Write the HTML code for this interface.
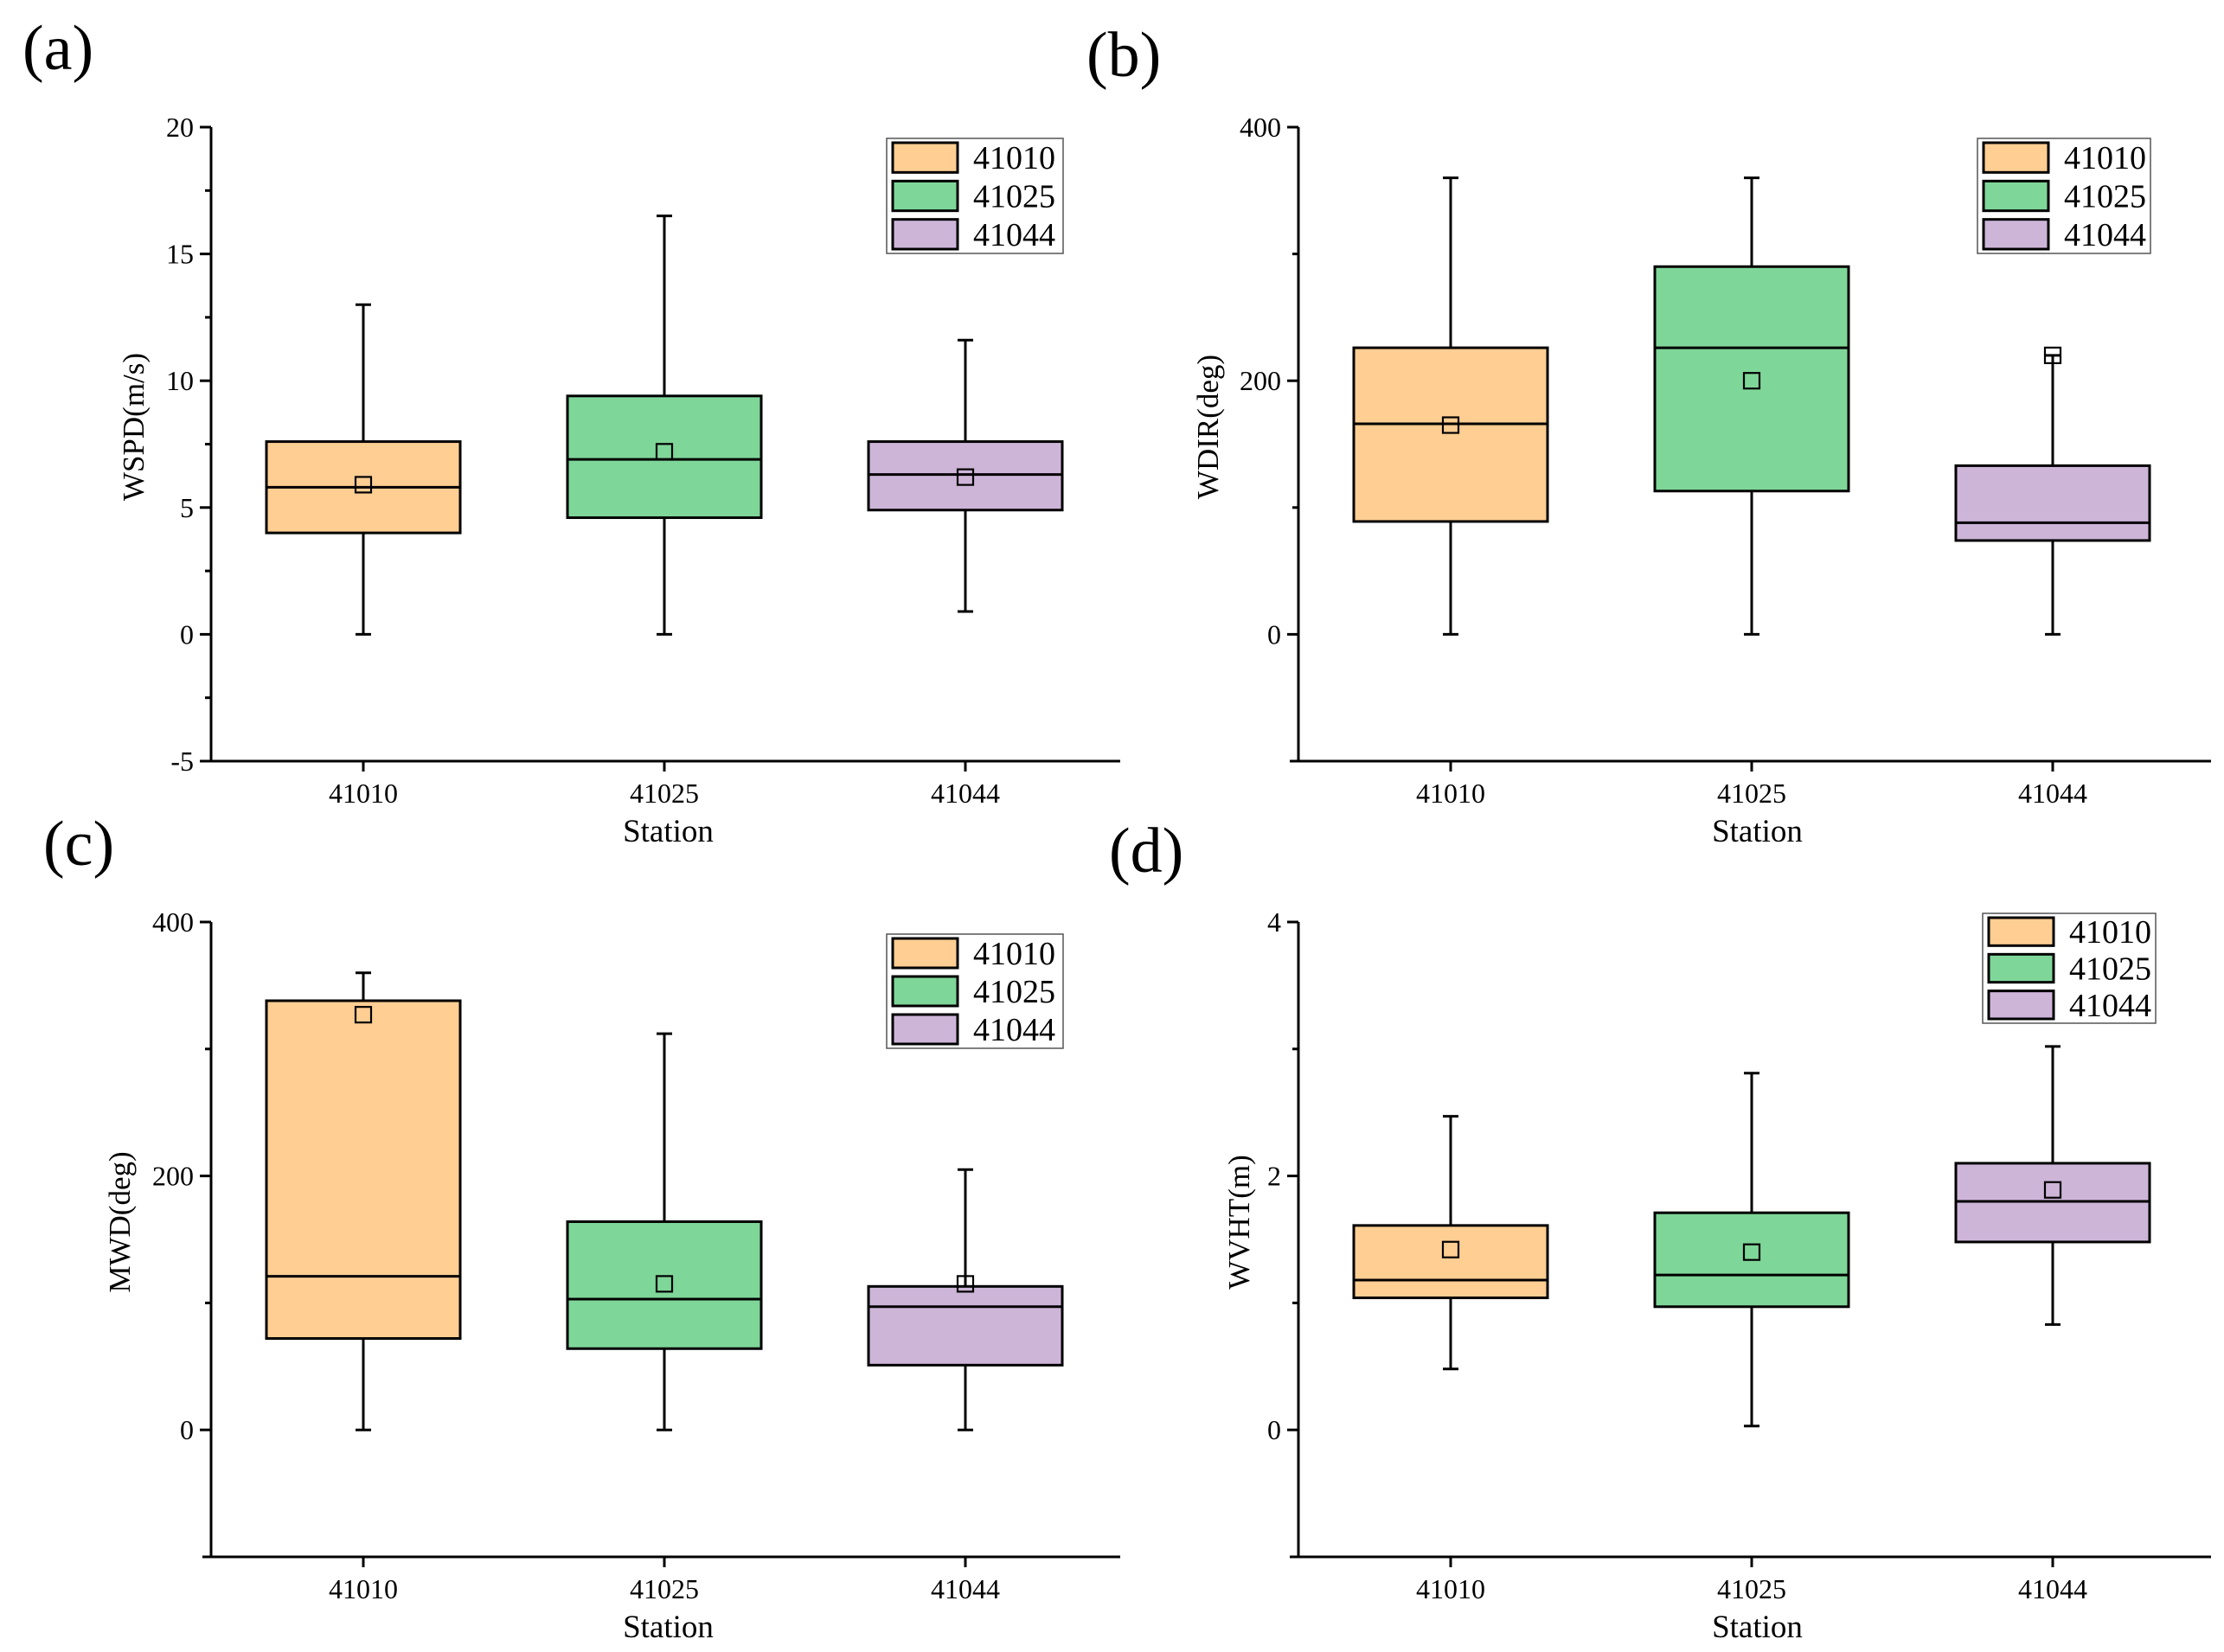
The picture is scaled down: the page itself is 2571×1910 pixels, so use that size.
<!DOCTYPE html>
<html><head><meta charset="utf-8"><style>
html,body{margin:0;padding:0;background:#fff}
svg{display:block;font-family:"Liberation Serif",serif}
</style></head><body>
<svg id="chart" width="2571" height="1910" viewBox="0 0 2571 1910" xmlns="http://www.w3.org/2000/svg"></svg>
<script>
const stations = ["41010","41025","41044"];
const colors = ["#FFCE93","#7FD699","#CDB5D8"];
// [min, q1, median, q3, max, mean] per station
const wspdStats = [[0,4,5.8,7.6,13,5.9],[0,4.6,6.9,9.4,16.5,7.2],[0.9,4.9,6.3,7.6,11.6,6.2]];
const wdirStats = [[0,89,166,226,360,165],[0,113,226,290,360,200],[0,74,88,133,220,220]];
const mwdStats = [[0,72,121,338,360,327],[0,64,103,164,312,115],[0,51,97,113,205,115]];
const wvhtStats = [[0.48,1.04,1.18,1.61,2.47,1.42],[0.03,0.97,1.22,1.71,2.81,1.40],[0.83,1.48,1.80,2.10,3.02,1.89]];
const wspdTicks = [-5,0,5,10,15,20];
const degTicks = [0,200,400];
const wvhtTicks = [0,2,4];

const NS="http://www.w3.org/2000/svg";
const svg=document.getElementById('chart');
function mk(tag,attrs,parent,text){const e=document.createElementNS(NS,tag);for(const k in attrs)e.setAttribute(k,attrs[k]);if(text!==undefined)e.textContent=text;(parent||svg).appendChild(e);return e;}

const panels=[
 {id:'a',label:'(a)',lx:26,ly:80,x0:244,x1:1295,yTop:147,yBot:880,min:-5,max:20,ticks:wspdTicks,minor:2.5,stats:wspdStats,title:'WSPD(m/s)',tx:158,leg:[1025,160,1229,293]},
 {id:'b',label:'(b)',lx:1256,ly:88,x0:1501,x1:2556,yTop:147,yBot:880,min:-100,max:400,ticks:degTicks,minor:100,stats:wdirStats,title:'WDIR(deg)',tx:1400,leg:[2286,160,2486,293]},
 {id:'c',label:'(c)',lx:50,ly:1000,x0:244,x1:1295,yTop:1066,yBot:1800,min:-100,max:400,ticks:degTicks,minor:100,stats:mwdStats,title:'MWD(deg)',tx:142,leg:[1025,1080,1229,1212]},
 {id:'d',label:'(d)',lx:1282,ly:1008,x0:1501,x1:2556,yTop:1066,yBot:1800,min:-1,max:4,ticks:wvhtTicks,minor:1,stats:wvhtStats,title:'WVHT(m)',tx:1436,leg:[2292,1056,2492,1183]}
];

panels.forEach(p=>{
  const g=mk('g',{});
  
  
  const y=v=>p.yBot-(v-p.min)/(p.max-p.min)*(p.yBot-p.yTop);
  const xs=i=>p.x0+176+i*348;
  const pl=mk('text',{x:p.lx,y:p.ly,'font-size':74},g,p.label);
  
  
  p.stats.forEach((s,i)=>{
    const cx=xs(i), hw=112, cap=9;
    const bg=mk('g',{},g);
    
    
    mk('line',{x1:cx,x2:cx,y1:y(s[0]),y2:y(s[1]),stroke:'#000','stroke-width':3},bg);
    mk('line',{x1:cx,x2:cx,y1:y(s[3]),y2:y(s[4]),stroke:'#000','stroke-width':3},bg);
    mk('line',{x1:cx-cap,x2:cx+cap,y1:y(s[0]),y2:y(s[0]),stroke:'#000','stroke-width':3},bg);
    mk('line',{x1:cx-cap,x2:cx+cap,y1:y(s[4]),y2:y(s[4]),stroke:'#000','stroke-width':3},bg);
    mk('rect',{x:cx-hw,y:y(s[3]),width:2*hw,height:y(s[1])-y(s[3]),fill:colors[i],stroke:'#000','stroke-width':3},bg);
    mk('line',{x1:cx-hw,x2:cx+hw,y1:y(s[2]),y2:y(s[2]),stroke:'#000','stroke-width':3},bg);
    mk('rect',{x:cx-9,y:y(s[5])-9,width:18,height:18,fill:'none',stroke:'#000','stroke-width':2.2},bg);
  });
  const ax=mk('g',{},g);
  
  
  mk('line',{x1:p.x0,x2:p.x0,y1:p.yTop,y2:p.yBot,stroke:'#000','stroke-width':3},ax);
  for(let v=p.min;v<=p.max+1e-9;v+=p.minor){
    const major=p.ticks.some(t=>Math.abs(t-v)<1e-9);
    mk('line',{x1:p.x0-(major?13:7),x2:p.x0,y1:y(v),y2:y(v),stroke:'#000','stroke-width':3},ax);
  }
  p.ticks.forEach(t=>{
    mk('text',{x:p.x0-20,y:y(t)+11,'font-size':32,'text-anchor':'end'},ax,String(t));
  });
  const xa=mk('g',{},g);
  
  
  mk('line',{x1:p.x0-10,x2:p.x1,y1:p.yBot,y2:p.yBot,stroke:'#000','stroke-width':3},xa);
  stations.forEach((s,i)=>{
    mk('line',{x1:xs(i),x2:xs(i),y1:p.yBot,y2:p.yBot+12,stroke:'#000','stroke-width':3},xa);
    mk('text',{x:xs(i),y:p.yBot+48,'font-size':32,'text-anchor':'middle'},xa,s);
  });
  const xt=mk('text',{x:(p.x0+p.x1)/2+3,y:p.yBot+93,'font-size':37,'text-anchor':'middle'},g,'Station');
  
  
  const ty=(p.yTop+p.yBot)/2-20;
  const yt=mk('text',{x:p.tx,y:ty,'font-size':35,'text-anchor':'middle',transform:`rotate(-90 ${p.tx} ${ty})`,'dominant-baseline':'middle'},g,p.title);
  
  
  const [lx0,ly0,lx1,ly1]=p.leg;
  const lg=mk('g',{},g);
  
  
  mk('rect',{x:lx0,y:ly0,width:lx1-lx0,height:ly1-ly0,fill:'#fff',stroke:'#555','stroke-width':1.5},lg);
  const rh=(ly1-ly0)/3;
  stations.forEach((s,i)=>{
    const ry=ly0+i*rh;
    mk('rect',{x:lx0+7,y:ry+5,width:75,height:rh-10,fill:colors[i],stroke:'#000','stroke-width':3},lg);
    mk('text',{x:lx0+100,y:ry+rh/2+13,'font-size':38,'textLength':95},lg,s);
  });
});
</script>
</body></html>
